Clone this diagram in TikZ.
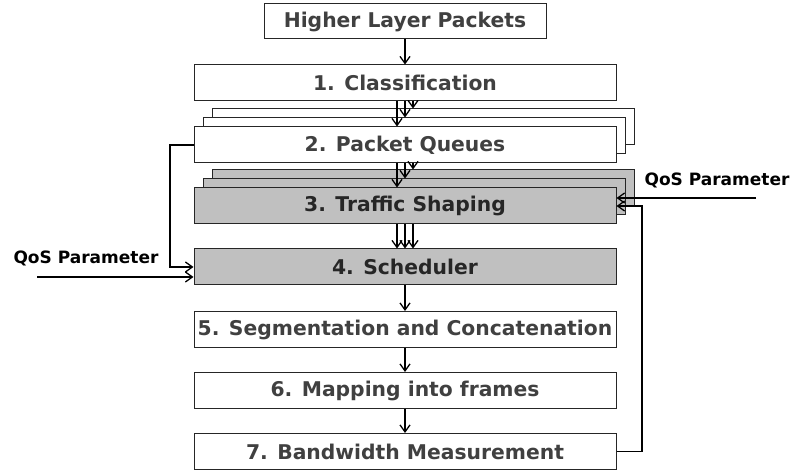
\documentclass[tikz,border=0pt]{standalone}
\usepackage{fontspec}
\setmainfont{DejaVu Sans}
\usetikzlibrary{arrows.meta,calc}
\definecolor{boxtext}{RGB}{64,64,64}
\definecolor{shade}{RGB}{192,192,192}
\tikzset{
  blk/.style={draw=black!85, line width=1pt, fill=white, minimum width=422pt, minimum height=36pt, inner sep=0pt,
    font=\fontsize{20.3}{23}\selectfont\bfseries, text=boxtext},
  gblk/.style={blk, fill=shade, text=black!85},
  arr/.style={line width=1.3pt, -{Straight Barb[length=7pt,width=10pt,line width=1.3pt]}},
  lbl/.style={font=\fontsize{17}{19}\selectfont\bfseries, text=black, inner sep=0pt}
}
\begin{document}
\begin{tikzpicture}[x=1pt,y=-1pt]
\useasboundingbox (0,0) rectangle (793,470);
% top box
\node[blk, minimum width=282pt, minimum height=35pt] (hlp) at (405,21.5) {Higher Layer Packets};
\node[blk] (cls) at (405,83) {1. Classification};
% packet queues stack
\node[blk] (pqC) at (423,127) {};
\node[blk] (pqB) at (414,136) {};
\node[blk] (pqA) at (405,145) {2. Packet Queues};
% traffic shaping stack
\node[gblk] (tsC) at (423,188) {};
\node[gblk] (tsB) at (414,197) {};
\node[gblk] (tsA) at (405,206) {3. Traffic Shaping};
\node[gblk] (sch) at (405,267) {4. Scheduler};
\node[blk] (seg) at (405,329.5) {5. Segmentation and Concatenation};
\node[blk] (map) at (405,390.5) {6. Mapping into frames};
\node[blk] (bw) at (405,451.5) {7. Bandwidth Measurement};
% labels
\node[lbl] (qosR) at (717,180) {QoS Parameter};
\node[lbl] (qosL) at (86,258) {QoS Parameter};
\coordinate (qR) at (756,198);
\coordinate (qL) at (37,277);
% vertical arrows
\draw[arr] (hlp.south) -- (cls.north);
\foreach \d/\t in {-8/pqA,0/pqB,8/pqC}{
  \draw[arr] ([xshift=\d pt]cls.south) -- ([xshift=\d pt]cls.south |- \t.north);
}
\foreach \d/\t in {-8/tsA,0/tsB,8/tsC}{
  \draw[arr] ([xshift=\d pt]pqA.south) -- ([xshift=\d pt]pqA.south |- \t.north);
}
\foreach \d in {-8,0,8}{
  \draw[arr] ([xshift=\d pt]tsA.south) -- ([xshift=\d pt]sch.north);
}
\draw[arr] (sch.south) -- (seg.north);
\draw[arr] (seg.south) -- (map.north);
\draw[arr] (map.south) -- (bw.north);
% feedback right
\draw[arr] (bw.east) -- (642,451.5) -- (642,206) -- (tsA.east);
\draw[arr] (qR) -- (qR -| tsA.east);
% left
\draw[arr] (pqA.west) -- (170,145) -- (170,267) -- (sch.west);
\draw[arr] (qL) -- (qL -| sch.west);
\end{tikzpicture}
\end{document}
